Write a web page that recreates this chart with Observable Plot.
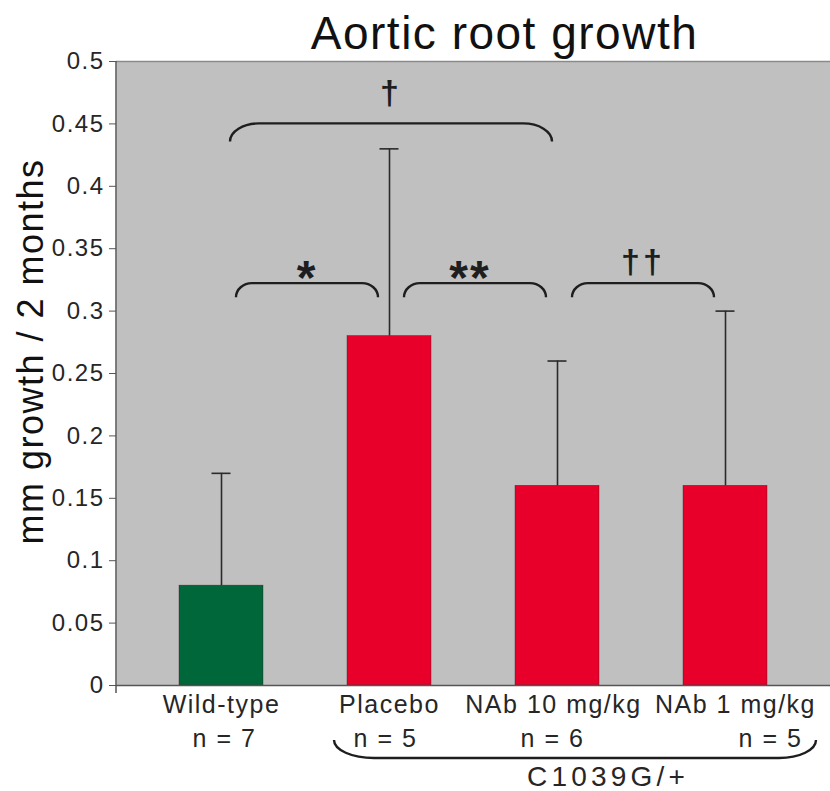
<!DOCTYPE html>
<html>
<head>
<meta charset="utf-8">
<script src="https://cdn.jsdelivr.net/npm/d3@7"></script>
<script src="https://cdn.jsdelivr.net/npm/@observablehq/plot@0.6"></script>
<style>
  html, body { margin: 0; padding: 0; background: #fff; }
  #chart svg { display: block; }
</style>
</head>
<body>
<div id="chart"></div>
<script>
// Treatment groups and their sample sizes
const groups = ["Wild-type", "Placebo", "NAb 10 mg/kg", "NAb 1 mg/kg"];
const sampleSizes = ["n = 7", "n = 5", "n = 6", "n = 5"];

// Mean aortic root growth (mm / 2 months) and standard deviation
const growth = [0.08, 0.28, 0.16, 0.16];
const growthSD = [0.09, 0.15, 0.10, 0.14];

// Y axis ticks
const yTicks = [0, 0.05, 0.1, 0.15, 0.2, 0.25, 0.3, 0.35, 0.4, 0.45, 0.5];

// Significance comparisons
const bracketFrom = ["Wild-type", "Wild-type", "Placebo", "NAb 10 mg/kg"];
const bracketTo = ["NAb 10 mg/kg", "Placebo", "NAb 10 mg/kg", "NAb 1 mg/kg"];
const bracketLevel = [0.45, 0.322, 0.322, 0.322];
const bracketMark = ["\u2020", "*", "**", "\u2020\u2020"];

// Genotype grouping under the axis
const genotype = "C1039G/+";
const genotypeGroups = ["Placebo", "NAb 1 mg/kg"];

const title = "Aortic root growth";
const yLabel = "mm growth / 2 months";

// Drawing styles
const palette = ["#00673a", "#e8002b", "#e8002b", "#e8002b"];
const ink = "#1e1e1e";
const nameShift = [0, 0, -4, 10];
const sizeShift = [3, -4, -5, 45];

const rows = groups.map((group, i) => ({
  group,
  n: sampleSizes[i],
  mean: growth[i],
  upper: growth[i] + growthSD[i]
}));

// Brackets, daggers/asterisks, the y axis line and the genotype brace
function annotations(index, scales, values, dimensions) {
  const x = scales.x, y = scales.y;
  const bw = x.bandwidth ? x.bandwidth() : 0;
  const cx = (g) => x(g) + bw / 2;
  const {marginLeft, marginTop, marginBottom, height} = dimensions;
  const base = y(0);
  const g = d3.create("svg:g");

  g.append("line")
    .attr("x1", marginLeft).attr("x2", marginLeft)
    .attr("y1", marginTop).attr("y2", height - marginBottom + 8)
    .attr("stroke", "#555").attr("stroke-width", 1.5);

  bracketFrom.forEach((from, i) => {
    const to = bracketTo[i];
    const wide = groups.indexOf(to) - groups.indexOf(from) > 1;
    const x0 = cx(from) + (wide ? 9 : 15);
    const x1 = cx(to) - (wide ? 5 : 11);
    const yl = y(bracketLevel[i]);
    const rx = wide ? 29 : 16, ry = wide ? 18 : 14;
    g.append("path")
      .attr("d", `M${x0},${yl + ry}A${rx},${ry} 0 0 1 ${x0 + rx},${yl}H${x1 - rx}A${rx},${ry} 0 0 1 ${x1},${yl + ry}`)
      .attr("fill", "none").attr("stroke", ink).attr("stroke-width", 2.4);
    const star = bracketMark[i].includes("*");
    g.append("text")
      .attr("x", (x0 + x1) / 2 + (star && bracketMark[i].length > 1 ? -5 : 0))
      .attr("y", star ? yl + 11 : yl - (wide ? 19 : 10))
      .attr("text-anchor", "middle")
      .attr("font-size", star ? 48 : 34)
      .attr("font-weight", "bold")
      .attr("fill", ink)
      .attr("style", `letter-spacing: ${star ? 2 : 3}px`)
      .text(bracketMark[i]);
  });

  const gx0 = cx(genotypeGroups[0]) - 55;
  const gx1 = cx(genotypeGroups[1]) + 91;
  const gl = base + 73, gr = 18;
  g.append("path")
    .attr("d", `M${gx0},${gl - gr}A40,${gr} 0 0 0 ${gx0 + 40},${gl}H${gx1 - 37}A37,${gr} 0 0 0 ${gx1},${gl - gr}`)
    .attr("fill", "none").attr("stroke", ink).attr("stroke-width", 2.4);
  g.append("text")
    .attr("x", (gx0 + gx1) / 2 + 33)
    .attr("y", base + 101)
    .attr("text-anchor", "middle")
    .attr("font-size", 28)
    .attr("fill", "#262626")
    .attr("style", "letter-spacing: 4.2px")
    .text(genotype);
  return g.node();
}

const labelMarks = groups.flatMap((group, i) => [
  Plot.text([rows[i]], {
    x: "group", text: "group", frameAnchor: "bottom", lineAnchor: "bottom",
    dy: 27, dx: nameShift[i], fontSize: 25, fill: "#262626"
  }),
  Plot.text([rows[i]], {
    x: "group", text: "n", frameAnchor: "bottom", lineAnchor: "bottom",
    dy: 61, dx: sizeShift[i], fontSize: 25, fill: "#262626"
  })
]);

const chart = Plot.plot({
  width: 830,
  height: 791,
  marginLeft: 116,
  marginRight: 0,
  marginTop: 61,
  marginBottom: 106,
  style: {
    fontFamily: "'Liberation Sans', Arial, sans-serif",
    background: "#fff",
    color: ink,
    letterSpacing: "1.5px",
    overflow: "visible"
  },
  x: {domain: groups, paddingInner: 0.5, paddingOuter: 0.3625, axis: null},
  y: {domain: [0, 0.5]},
  color: {domain: groups, range: palette},
  marks: [
    Plot.frame({fill: "#c0c0c0"}),
    Plot.ruleY([0.5], {stroke: "#8a8a8a", strokeWidth: 1.5}),
    Plot.barY(rows, {x: "group", y: "mean", fill: "group", stroke: "#3a1010", strokeWidth: 0.6, strokeOpacity: 0.6}),
    Plot.ruleY([0], {stroke: "#555", strokeWidth: 1.5}),
    Plot.ruleX(rows, {x: "group", y1: "mean", y2: "upper", stroke: "#2a2a2a", strokeWidth: 1.6}),
    Plot.tickY(rows, {x: "group", y: "upper", inset: 32.5, stroke: "#2a2a2a", strokeWidth: 1.6}),
    Plot.axisY({
      ticks: yTicks, tickFormat: (d) => String(d), tickSize: 7, tickPadding: 5,
      fontSize: 24, label: null, stroke: "#555", fill: "#262626"
    }),
    Plot.text([title], {frameAnchor: "top", lineAnchor: "bottom", dx: 31, dy: -13, fontSize: 46, fill: "#111"}),
    Plot.text([yLabel], {
      frameAnchor: "left", textAnchor: "middle", rotate: -90,
      dx: -85, dy: -22, fontSize: 36, fill: "#111"
    }),
    ...labelMarks,
    annotations
  ]
});

document.getElementById("chart").append(chart);
</script>
</body>
</html>
